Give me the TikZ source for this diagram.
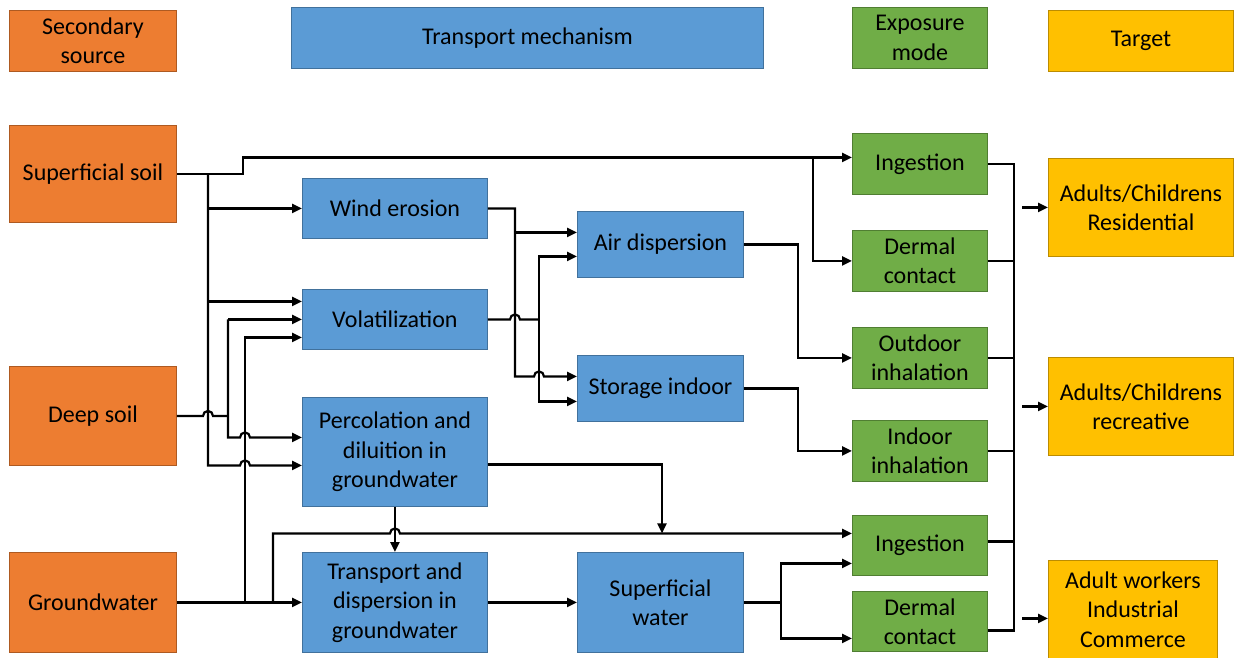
\documentclass[tikz,border=0pt]{standalone}
\usepackage{fontspec}
\setmainfont{Carlito}
\usetikzlibrary{arrows.meta,calc}
\definecolor{orF}{HTML}{ED7D31}\definecolor{orD}{HTML}{AE5A21}
\definecolor{blF}{HTML}{5B9BD5}\definecolor{blD}{HTML}{41719C}
\definecolor{grF}{HTML}{70AD47}\definecolor{grD}{HTML}{507E32}
\definecolor{yeF}{HTML}{FFC000}\definecolor{yeD}{HTML}{BC8C00}
\begin{document}
\begin{tikzpicture}[x=1pt,y=1pt,
 bx/.style={draw, line width=0.9pt, inner sep=0pt, anchor=north west, align=center, font=\fontsize{24}{29.3}\selectfont, text=black},
 src/.style={bx, fill=orF, draw=orD},
 trn/.style={bx, fill=blF, draw=blD},
 exm/.style={bx, fill=grF, draw=grD},
 tgt/.style={bx, fill=yeF, draw=yeD},
 conn/.style={line width=2.2pt, draw=black},
 arr/.style={conn, -{Triangle[length=10pt,width=9pt]}}]
\useasboundingbox (0,0) rectangle (1234,-657);
\fill[white] (0,0) rectangle (1234,-657);
% header
\node[src, minimum width=167, minimum height=61] (h1) at (9,-10) {Secondary\\source};
\node[trn, minimum width=472, minimum height=61] (h2) at (291,-7) {Transport mechanism};
\node[exm, minimum width=135, minimum height=61] (h3) at (852,-7) {Exposure\\mode};
\node[tgt, minimum width=185, minimum height=61] (h4) at (1048,-10) {Target};
% sources
\node[src, minimum width=167, minimum height=97] (ss) at (9,-125) {Superficial soil};
\node[src, minimum width=167, minimum height=99] (ds) at (9,-366) {Deep soil};
\node[src, minimum width=167, minimum height=100] (gw) at (9,-552) {Groundwater};
% transport
\node[trn, minimum width=185, minimum height=60] (we) at (302,-178) {Wind erosion};
\node[trn, minimum width=185, minimum height=60] (vo) at (302,-289) {Volatilization};
\node[trn, minimum width=185, minimum height=109] (pe) at (302,-397) {Percolation and\\diluition in\\groundwater};
\node[trn, minimum width=185, minimum height=100] (td) at (302,-552) {Transport and\\dispersion in\\groundwater};
\node[trn, minimum width=166, minimum height=66] (ad) at (577,-211) {Air dispersion};
\node[trn, minimum width=166, minimum height=66] (si) at (577,-355) {Storage indoor};
\node[trn, minimum width=166, minimum height=100] (sw) at (577,-552) {Superficial\\water};
% exposure
\node[exm, minimum width=135, minimum height=61] (in1) at (852,-133) {Ingestion};
\node[exm, minimum width=135, minimum height=61] (dc1) at (852,-230) {Dermal\\contact};
\node[exm, minimum width=135, minimum height=61] (oi) at (852,-327) {Outdoor\\inhalation};
\node[exm, minimum width=135, minimum height=61] (ii) at (852,-420) {Indoor\\inhalation};
\node[exm, minimum width=135, minimum height=60] (in2) at (852,-515) {Ingestion};
\node[exm, minimum width=135, minimum height=60] (dc2) at (852,-591) {Dermal\\contact};
% targets
\node[tgt, minimum width=185, minimum height=98] (t1) at (1048,-158) {Adults/Childrens\\Residential};
\node[tgt, minimum width=185, minimum height=98] (t2) at (1048,-357) {Adults/Childrens\\recreative};
\node[tgt, minimum width=169, minimum height=98] (t3) at (1048,-560) {Adult workers\\Industrial\\Commerce};
% bus coordinates
\coordinate (xA) at (243,0);
\coordinate (xB) at (208,0);
\coordinate (xC) at (228,0);
\coordinate (xD) at (245,0);
\coordinate (xE) at (273,0);
\coordinate (xG) at (515,0);
\coordinate (xH) at (539,0);
\coordinate (xI) at (662,0);
\coordinate (xJ) at (798,0);
\coordinate (xK) at (813,0);
\coordinate (xL) at (781,0);
\coordinate (xM) at (1014,0);
\coordinate (xN) at (1022,0);
% shifted ports
\coordinate (in1a) at ([yshift=6.5]in1.west);
\coordinate (vo1) at ([yshift=18]vo.west);
\coordinate (vo3) at ([yshift=-18]vo.west);
\coordinate (pe1) at ([yshift=14.5]pe.west);
\coordinate (pe2) at ([yshift=-13.5]pe.west);
\coordinate (pee) at ([yshift=-12.5]pe.east);
\coordinate (ad1) at ([yshift=12]ad.west);
\coordinate (ad2) at ([yshift=-12]ad.west);
\coordinate (si1) at ([yshift=12]si.west);
\coordinate (si2) at ([yshift=-13]si.west);
\coordinate (in2a) at ([yshift=12]in2.west);
\coordinate (in2b) at ([yshift=-18]in2.west);
\coordinate (dc2a) at ([yshift=-17]dc2.west);
\coordinate (in2e) at ([yshift=4]in2.east);
\coordinate (dc2e) at ([yshift=-9]dc2.east);
\coordinate (t3a) at ([yshift=-9]t3.west);
% superficial soil
\draw[arr] (ss.east) -- (ss.east -| xA) |- (in1a);
\draw[arr] (in1a -| xK) |- (dc1.west);
\draw[arr] (ss.east -| xB) |- ($(pe2 -| xD)+(-5,0)$) arc[start angle=180,end angle=0,radius=5] -- (pe2);
\draw[arr] (we.west -| xB) -- (we.west);
\draw[arr] (vo1 -| xB) -- (vo1);
% deep soil
\draw[conn] (ds.east) -- ($(ds.east -| xB)+(-5,0)$) arc[start angle=180,end angle=0,radius=5] -- (ds.east -| xC);
\draw[arr] (vo.west -| xC) |- ($(pe1 -| xD)+(-5,0)$) arc[start angle=180,end angle=0,radius=5] -- (pe1);
\draw[arr] (vo.west -| xC) -- (vo.west);
% groundwater
\draw[arr] (gw.east) -- (td.west);
\draw[arr] (gw.east -| xD) |- (vo3);
\draw[arr] (gw.east -| xE) |- ($(in2a -| pe.south)+(-5,0)$) arc[start angle=180,end angle=0,radius=5] -- (in2a);
% percolation
\draw[arr] (pe.south) -- (td.north);
\draw[arr] (pee) -| (in2a -| xI);
% transport -> superficial water
\draw[arr] (td.east) -- (sw.west);
\draw[arr] (sw.east) -- (sw.east -| xL) |- (in2b);
\draw[arr] (sw.east -| xL) |- (dc2a);
% wind erosion
\draw[arr] (we.east) -- (we.east -| xG) |- ($(si1 -| xH)+(-5,0)$) arc[start angle=180,end angle=0,radius=5] -- (si1);
\draw[arr] (ad1 -| xG) -- (ad1);
% volatilization
\draw[conn] (vo.east) -- ($(vo.east -| xG)+(-5,0)$) arc[start angle=180,end angle=0,radius=5] -- (vo.east -| xH);
\draw[arr] (vo.east -| xH) |- (ad2);
\draw[arr] (vo.east -| xH) |- (si2);
% air / storage
\draw[arr] (ad.east) -- (ad.east -| xJ) |- (oi.west);
\draw[arr] (si.east) -- (si.east -| xJ) |- (ii.west);
% right bus
\draw[conn] (in1.east) -- (in1.east -| xM) -- (dc2e -| xM) -- (dc2e);
\draw[conn] (dc1.east) -- (dc1.east -| xM);
\draw[conn] (oi.east) -- (oi.east -| xM);
\draw[conn] (ii.east) -- (ii.east -| xM);
\draw[conn] (in2e) -- (in2e -| xM);
% targets
\draw[arr] (t1.west -| xN) -- (t1.west);
\draw[arr] (t2.west -| xN) -- (t2.west);
\draw[arr] (t3a -| xN) -- (t3a);
\end{tikzpicture}
\end{document}
